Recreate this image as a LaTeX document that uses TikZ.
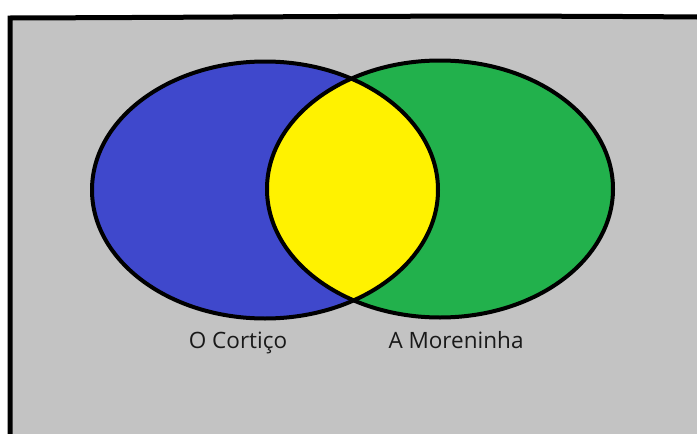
\documentclass[tikz,border=0pt]{standalone}
\usepackage{fontspec}
\setmainfont{Open Sans}
\usepackage{xcolor}
\definecolor{paintGray}{HTML}{C3C3C3}
\definecolor{paintBlue}{HTML}{3F48CC}
\definecolor{paintGreen}{HTML}{22B14C}
\definecolor{paintYellow}{HTML}{FFF200}
\usetikzlibrary{shapes.geometric, positioning}

\begin{document}
\begin{tikzpicture}[x=1pt, y=-1pt,
    setShape/.style={ellipse, minimum width=346pt, minimum height=257pt, inner sep=0pt},
    setLabel/.style={font=\fontsize{22.5pt}{26pt}\selectfont, text=black!90}]
        % Frame and background
        \useasboundingbox (0,0) rectangle (697,434);
        \fill[white] (0,0) rectangle (697,434);
        \fill[paintGray] (10,17) rectangle (697,434);
        \draw[line width=5pt, line cap=round] (10,434) -- (10,18) .. controls (300,17) and (450,15) .. (697,17);

        % Sets
        \node[setShape, fill=paintBlue] (cortico) at (265,190) {};
        \node[setShape, fill=paintGreen] (moreninha) at (440,189) {};

        % Intersection
        \begin{scope}
            \clip (265,190) ellipse [x radius=173pt, y radius=128.5pt];
            \fill[paintYellow] (440,189) ellipse [x radius=173pt, y radius=128.5pt];
        \end{scope}

        % Outlines
        \draw[line width=4pt] (cortico.center) ellipse [x radius=173pt, y radius=128.5pt];
        \draw[line width=4pt] (moreninha.center) ellipse [x radius=173pt, y radius=128.5pt];

        % Labels
        \node[setLabel] (corticoLabel) at (238,343) {O Cortiço};
        \node[setLabel] (moreninhaLabel) at (456,340) {A Moreninha};
    \end{tikzpicture}
\end{document}
